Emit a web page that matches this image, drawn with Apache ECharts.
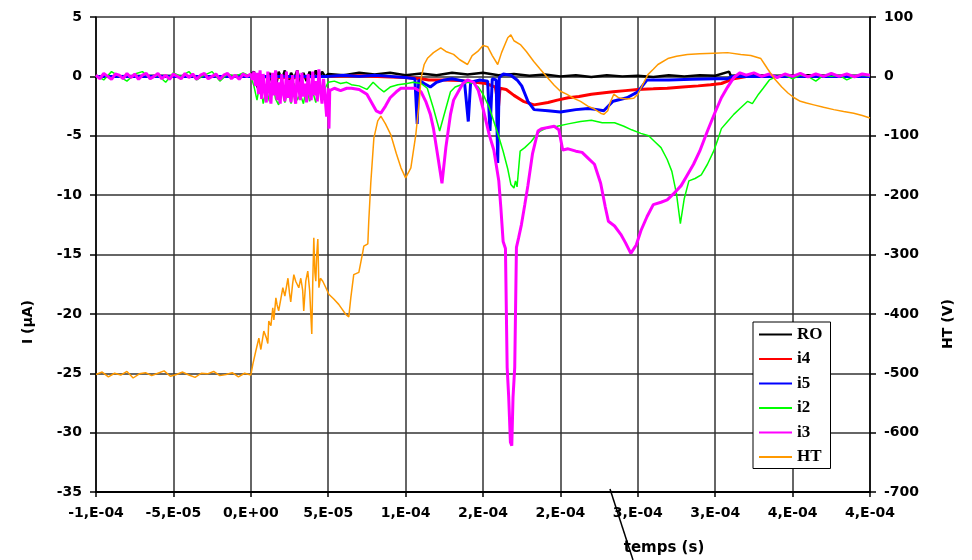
<!DOCTYPE html>
<html>
<head>
<meta charset="utf-8">
<script src="https://cdn.jsdelivr.net/npm/echarts@6/dist/echarts.min.js"></script>
<style>
  html, body { margin: 0; padding: 0; background: #fff; }
  #chart { width: 972px; height: 560px; }
</style>
</head>
<body>
<div id="chart"></div>
<script>
// temps en µs, courants en µA, HT en V
const xTicksUs = [-100, 400, 50]
const yLeftTicks = [-35, 5, 5]
const yRightTicks = [-700, 100, 100]

const ro = [[-100,0],[-60,0.05],[-20,0],[0,0.1],[2,0.4],[4,-0.8],[6,-1.3],[8,-0.5],[10,-1.4],[12,0.3],[14,-0.6],[16,-1.0],[18,0.4],[20,-0.3],[22,0.5],[24,-0.7],[26,0.3],[28,-0.2],[30,0.5],[32,-0.5],[34,0.3],[36,-0.4],[38,0.4],[40,-0.2],[42,0.5],[44,-0.3],[46,0.4],[48,0],[50,0.2],[60,0.1],[70,0.3],[80,0.15],[90,0.3],[100,0.1],[110,0.25],[120,0.1],[130,0.3],[140,0.15],[150,0.3],[160,0.1],[170,0.2],[180,0.05],[190,0.15],[200,0],[210,0.1],[220,-0.05],[230,0.1],[240,0],[250,0.05],[260,-0.05],[270,0.1],[280,0],[290,0.1],[300,0.05],[309,0.4],[310,0.05],[320,0.1],[340,0.05],[360,0.1],[380,0.05],[400,0.05]]

const i4 = [[-100,0],[-50,0],[0,0],[20,-0.1],[50,0],[70,0.05],[90,-0.05],[100,-0.1],[110,-0.2],[115,-0.3],[125,-0.3],[135,-0.35],[145,-0.5],[152,-0.6],[158,-0.9],[160,-2.6],[161,-1.0],[165,-1.1],[170,-1.6],[176,-2.1],[183,-2.4],[192,-2.2],[198,-2.0],[205,-1.8],[212,-1.7],[220,-1.5],[227,-1.4],[234,-1.3],[242,-1.2],[250,-1.1],[260,-1.05],[269,-1.0],[279,-0.9],[289,-0.8],[297,-0.7],[304,-0.6],[308,-0.4],[312,-0.2],[321,0],[340,0],[400,0]]

const i5 = [[-100,0],[0,0],[50,0],[60,0.1],[70,0],[80,0.1],[90,0],[100,-0.1],[106,-0.2],[107.5,-4.0],[108.5,-0.3],[112,-0.6],[116,-0.9],[120,-0.5],[125,-0.3],[130,-0.2],[138,-0.4],[140.5,-3.8],[142,-0.5],[148,-0.3],[153,-0.4],[154.5,-4.6],[156,-0.2],[158.5,-0.3],[159.5,-7.3],[160.5,-0.1],[163,0.2],[168,0.1],[172,-0.3],[175,-0.8],[179,-2.1],[183,-2.8],[192,-2.9],[200,-3.0],[210,-2.8],[218,-2.7],[224,-2.8],[228,-2.9],[231,-2.5],[234,-2.1],[243,-1.8],[250,-1.3],[256,-0.3],[270,-0.3],[285,-0.25],[300,-0.2],[308,-0.2],[311,0],[400,0]]

const i2 = [[-100,0.1],[-95,-0.3],[-90,0.4],[-85,0],[-80,-0.4],[-75,0.2],[-70,0.4],[-65,-0.2],[-60,0.1],[-55,-0.5],[-50,0.3],[-45,0],[-40,0.4],[-35,-0.3],[-30,0.1],[-25,0.4],[-20,-0.4],[-15,0.2],[-10,0],[-5,0.3],[0,0],
  [2,-0.8],[4,-2.0],[6,-0.5],[8,-2.3],[10,-1.0],[12,-2.1],[14,-0.4],[16,-1.9],[18,-2.4],[20,-0.8],[22,-2.2],[24,-1.2],[26,-2.3],[28,-0.6],[30,-2.0],[32,-1.5],[34,-2.3],[36,-0.9],[38,-2.1],[40,-1.3],[42,-2.2],[44,-0.7],[46,-1.8],[48,-1.0],[50,-0.5],
  [54,-0.4],[58,-0.6],[62,-0.5],[65,-0.7],[70,-0.8],[75,-1.1],[79,-0.5],[83,-1.0],[86,-1.3],[90,-0.9],[95,-0.7],[101,-0.6],[105,-0.5],[110,-0.6],[114,-1.0],[118,-2.7],[122,-4.6],[126,-2.7],[129,-1.3],[132,-0.9],[136,-0.7],[140,-0.5],[144,-0.6],[147,-0.9],[150,-1.5],[154,-2.6],[157,-3.8],[160,-5.0],[163,-6.3],[166,-7.8],[168,-9.1],[170,-9.4],[171,-8.8],[172,-9.3],[174,-6.3],[177,-6.0],[181,-5.5],[184,-5.0],[187,-4.6],[192,-4.3],[198,-4.2],[205,-4.0],[213,-3.8],[220,-3.7],[227,-3.9],[235,-3.9],[241,-4.2],[246,-4.5],[252,-4.8],[257,-5.0],[261,-5.5],[265,-6.0],[269,-7.0],[272,-8.0],[275,-9.9],[277.5,-12.4],[280,-10.3],[283,-8.8],[287,-8.6],[291,-8.3],[295,-7.4],[299,-6.3],[302,-5.2],[304,-4.4],[308,-3.8],[312,-3.2],[316,-2.7],[321,-2.1],[324,-2.3],[328,-1.5],[331,-1.0],[335,-0.3],[340,0],[345,0.1],[350,-0.2],[355,0.1],[360,0],[365,-0.4],[370,0.1],[375,0],[380,0.1],[385,-0.3],[390,0],[395,0.1],[400,0]]

const i3 = [[-100,0.1],[-97.5,-0.2],[-95,0.25],[-92.5,0],[-90,-0.25],[-87.5,0.2],[-85,0.1],[-82.5,-0.2],[-80,0.25],[-77.5,-0.1],[-75,0.2],[-72.5,-0.25],[-70,0.1],[-67.5,0.25],[-65,-0.2],[-62.5,0],[-60,0.25],[-57.5,-0.2],[-55,0.1],[-52.5,-0.25],[-50,0.2],[-47.5,0],[-45,-0.2],[-42.5,0.25],[-40,-0.1],[-37.5,0.2],[-35,-0.25],[-32.5,0.1],[-30,0.25],[-27.5,-0.2],[-25,0],[-22.5,0.2],[-20,-0.25],[-17.5,0.1],[-15,0.25],[-12.5,-0.2],[-10,0.1],[-7.5,-0.25],[-5,0.2],[-2.5,0],[0,0.2],
  [1,-0.3],[2,0.4],[3,-0.8],[4,0.3],[5,-1.5],[6,0.5],[7,-1.9],[8,0.2],[9,-1.2],[10,-2.2],[11,0.4],[12,-1.0],[13,-2.3],[14,0.3],[15,-1.6],[16,0.5],[17,-2.0],[18,-0.5],[19,-2.3],[20,0.2],[21,-1.4],[22,-2.1],[23,0.4],[24,-1.8],[25,-0.3],[26,-2.2],[27,0.1],[28,-1.5],[29,-2.3],[30,0.5],[31,-1.0],[32,-2.0],[33,0.3],[34,-1.7],[35,-0.6],[36,-2.2],[37,0.2],[38,-1.3],[39,-2.0],[40,0.4],[41,-1.6],[42,-0.4],[43,-2.1],[44,0.6],[45,-1.2],[46,-2.3],[47,-0.2],[48,-1.8],[49,-3.4],[50,-1.0],[50.5,-4.4],[51,-1.2],
  [54,-1.0],[58,-1.2],[62,-1.0],[65,-1.0],[70,-1.1],[75,-1.5],[78,-2.2],[81,-2.9],[84,-3.1],[87,-2.5],[90,-1.8],[94,-1.3],[97,-1.0],[102,-1.0],[106,-1.0],[110,-1.3],[113,-2.1],[116,-3.2],[118,-4.4],[121,-6.9],[123.5,-9.0],[126,-6.0],[129,-3.2],[131,-2.0],[134,-1.3],[137,-0.6],[140,-0.3],[144,-0.5],[147,-1.2],[150,-2.7],[154,-4.9],[157,-6.2],[160.2,-8.8],[161.5,-11],[163,-13.9],[164.5,-14.5],[165.6,-24.5],[166.6,-27],[167.7,-30.8],[168.6,-31.1],[169.4,-27],[170.5,-24.5],[171.6,-14.4],[173,-13.6],[174.8,-12.5],[177,-10.8],[179,-9.2],[182,-6.5],[185.5,-4.6],[188,-4.4],[192,-4.3],[196,-4.2],[199,-4.5],[201.5,-6.2],[205,-6.1],[210,-6.3],[214,-6.4],[218,-6.9],[222,-7.4],[226,-9.0],[229,-11.0],[231,-12.2],[235,-12.6],[239,-13.3],[242,-14.0],[245.5,-14.9],[249,-14.2],[252,-13.0],[256,-11.8],[260,-10.8],[265,-10.6],[269,-10.4],[273,-9.9],[278,-9.2],[282,-8.3],[286,-7.4],[290,-6.3],[295,-4.6],[300,-3.0],[304,-1.8],[308,-0.9],[312,-0.1],[316,0.3],[320,0.1],[325,0.3],[330,0],[335,0.2],[340,-0.1],[345,0.2],[350,0],[355,0.25],[360,-0.05],[365,0.2],[370,0],[375,0.25],[380,0],[385,0.2],[390,-0.05],[395,0.2],[400,0.1]]

const ht = [[-100,-502],[-96,-498],[-92,-506],[-88,-500],[-84,-503],[-80,-497],[-76,-508],[-72,-501],[-68,-499],[-64,-504],[-60,-500],[-56,-496],[-52,-505],[-48,-502],[-44,-498],[-40,-503],[-36,-507],[-32,-500],[-28,-501],[-24,-497],[-20,-504],[-16,-502],[-12,-499],[-8,-506],[-4,-500],[0,-503],
  [1.3,-485],[3.2,-463],[5.2,-441],[6.5,-460],[8.4,-429],[10,-440],[11,-450],[11.6,-412],[13,-420],[14.2,-390],[14.9,-410],[16.2,-373],[17,-385],[18,-395],[20.7,-356],[22,-370],[24,-340],[25,-365],[25.8,-380],[27,-350],[27.8,-334],[29,-345],[31,-356],[32.3,-340],[33.5,-360],[34.2,-395],[35.5,-345],[36.8,-328],[38,-360],[39.4,-434],[40,-350],[40.7,-272],[41.4,-330],[42,-345],[42.6,-300],[43.3,-274],[44,-356],[45,-340],[46.5,-345],[48.5,-356],[50.4,-367],[53.6,-375],[56.8,-384],[61.4,-401],[63.3,-405],[64.6,-373],[66.5,-334],[69.8,-330],[72.4,-295],[73,-286],[75.6,-282],[76.2,-244],[77.5,-180],[79.5,-104],[82,-75],[84,-67],[87,-80],[90.4,-98],[94,-130],[97,-154],[100,-171],[103.4,-154],[106.6,-98],[108.5,-50],[110,-3],[112,20],[114.3,31],[118,40],[122.7,48],[126,42],[131,37],[135,28],[140,20],[143,35],[146.6,42],[150,52],[153,50],[156,35],[159.5,20],[162,40],[166,65],[168,70],[170,60],[174.4,53],[178,42],[182.8,25],[187,12],[192,-3],[196,-15],[200,-25],[204,-30],[208.7,-37],[213,-42],[217.7,-50],[222,-55],[226,-62],[228,-64],[230.6,-58],[232,-45],[234.5,-30],[237,-35],[239,-37],[243,-38],[247.4,-37],[250,-30],[252,-20],[256.5,3],[260,12],[263,20],[269.4,30],[275,34],[282,37],[290,38],[299,39],[308,40],[316.5,37],[323,35],[329.5,30],[332,20],[334,12],[338,-3],[343,-18],[347,-28],[351,-36],[355,-42],[359,-45],[363.7,-48],[370,-52],[376.6,-56],[383,-59],[389.5,-62],[395,-66],[400,-70]]

const legendNames = ['RO', 'i4', 'i5', 'i2', 'i3', 'HT']

// format Excel "0,E+00" (arrondi de la mantisse)
function sciLabel(us) {
  if (us === 0) return '0,E+00'
  const a = Math.abs(us)
  let e = Math.floor(Math.log10(a))
  let m = Math.round(a / Math.pow(10, e))
  if (m === 10) { m = 1; e++ }
  e -= 6
  return (us < 0 ? '-' : '') + m + ',E' + (e < 0 ? '-' : '+') + String(Math.abs(e)).padStart(2, '0')
}

const labelFont = { fontFamily: 'DejaVu Sans', fontWeight: 'bold', fontSize: 14, color: '#000' }
const gridLine = { show: true, lineStyle: { color: '#333', width: 1.5 } }

function line(name, data, color, width, yAxisIndex) {
  return {
    name, type: 'line', data, yAxisIndex: yAxisIndex || 0,
    symbol: 'none', showSymbol: false, color,
    lineStyle: { color, width }
  }
}

const chart = echarts.init(document.getElementById('chart'))
chart.setOption({
  animation: false,
  backgroundColor: '#fff',
  grid: { left: 96, right: 102, top: 17, bottom: 68 },
  legend: {
    data: legendNames, orient: 'vertical', left: 753, top: 322,
    itemWidth: 33, itemHeight: 14, itemGap: 7.5,
    itemStyle: { opacity: 0 },
    padding: [4, 8, 3, 5], borderColor: '#000', borderWidth: 1, backgroundColor: '#fff',
    textStyle: { fontFamily: 'Liberation Serif', fontWeight: 'bold', fontSize: 17, color: '#000' }
  },
  xAxis: {
    type: 'value', min: xTicksUs[0], max: xTicksUs[1], interval: xTicksUs[2],
    axisLine: { onZero: false, lineStyle: { color: '#000', width: 2 } },
    axisTick: { length: 5, lineStyle: { color: '#000', width: 1.5 } },
    axisLabel: Object.assign({ margin: 14, formatter: sciLabel }, labelFont),
    splitLine: gridLine
  },
  yAxis: [{
    type: 'value', min: yLeftTicks[0], max: yLeftTicks[1], interval: yLeftTicks[2],
    axisLine: { show: true, onZero: false, lineStyle: { color: '#000', width: 1.5 } },
    axisTick: { show: true, length: 6, lineStyle: { color: '#000', width: 1.5 } },
    axisLabel: Object.assign({ margin: 14 }, labelFont),
    splitLine: gridLine
  }, {
    type: 'value', position: 'right', min: yRightTicks[0], max: yRightTicks[1], interval: yRightTicks[2],
    axisLine: { show: true, onZero: false, lineStyle: { color: '#000', width: 1.5 } },
    axisTick: { show: true, length: 6, lineStyle: { color: '#000', width: 1.5 } },
    axisLabel: Object.assign({ margin: 14 }, labelFont),
    splitLine: { show: false }
  }],
  graphic: [
    { type: 'text', x: 28, y: 322, rotation: Math.PI / 2,
      style: { text: 'I (µA)', align: 'center', verticalAlign: 'middle', font: 'bold 14px "DejaVu Sans"', fill: '#000' } },
    { type: 'text', x: 948, y: 324, rotation: Math.PI / 2,
      style: { text: 'HT (V)', align: 'center', verticalAlign: 'middle', font: 'bold 14px "DejaVu Sans"', fill: '#000' } },
    { type: 'text', x: 664, y: 548,
      style: { text: 'temps (s)', align: 'center', verticalAlign: 'middle', font: 'bold 15px "DejaVu Sans"', fill: '#000' } },
    { type: 'line', shape: { x1: 610, y1: 489, x2: 633, y2: 560 }, style: { stroke: '#000', lineWidth: 1.5 } }
  ],
  series: [
    line('RO', ro, '#000000', 2.5),
    line('i4', i4, '#ff0000', 3),
    line('i5', i5, '#0000ff', 3),
    line('i2', i2, '#00ff00', 1.5),
    line('i3', i3, '#ff00ff', 3),
    line('HT', ht, '#ff9900', 1.5, 1)
  ]
})
</script>
</body>
</html>
